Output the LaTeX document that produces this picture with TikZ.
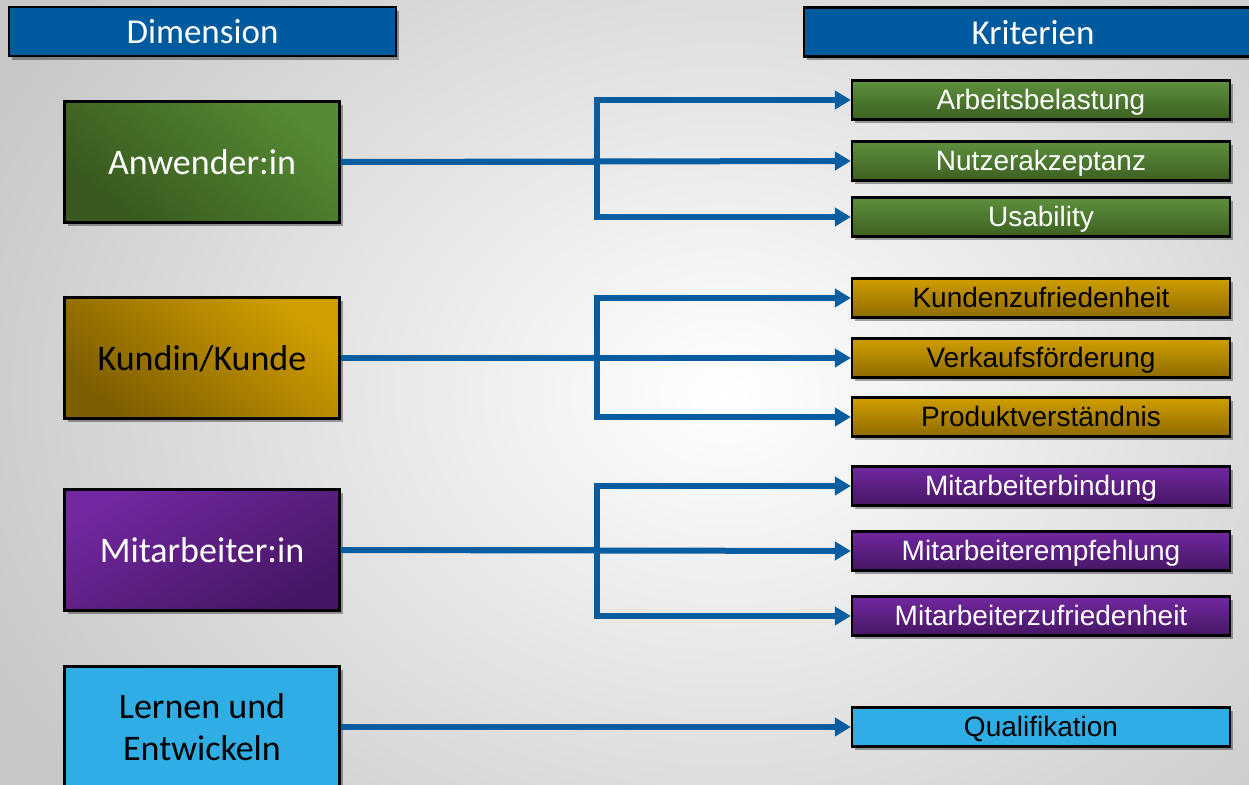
\documentclass[tikz,border=0pt]{standalone}
\usepackage{fontspec}
\setmainfont{Liberation Sans}
\newfontfamily\calfont{Carlito}
\usetikzlibrary{shadows,arrows.meta,calc}
\definecolor{hdrblue}{RGB}{0,90,158}
\definecolor{lnblue}{RGB}{8,92,160}
\definecolor{grnL}{RGB}{86,138,52}
\definecolor{grnD}{RGB}{56,88,30}
\definecolor{gldL}{RGB}{208,158,0}
\definecolor{gldD}{RGB}{126,94,0}
\definecolor{purL}{RGB}{114,40,160}
\definecolor{purD}{RGB}{70,22,100}
\definecolor{ltblue}{RGB}{47,174,230}
\tikzset{
  shad/.style={drop shadow={shadow xshift=1.5pt, shadow yshift=-2pt, opacity=0.35, fill=black}},
  hdr/.style={draw=black, line width=1.2pt, fill=hdrblue, text=white, shad, minimum height=24.5pt, inner sep=0pt, text height=12.5pt, text depth=0pt, font=\calfont\fontsize{17.5}{20}\selectfont},
  dimbox/.style={draw=black, line width=1.2pt, shad, minimum width=137.5pt, minimum height=60.5pt, inner sep=0pt, align=center, font=\calfont\fontsize{18}{21}\selectfont},
  oneline/.style={text height=13pt, text depth=0pt},
  critbox/.style={draw=black, line width=1.1pt, shad, minimum width=189pt, minimum height=19.5pt, inner sep=0pt, text height=10pt, text depth=0pt, font=\fontsize{14}{16}\selectfont},
  green/.style={shading=axis, top color=grnL, bottom color=grnD, shading angle=-40, text=white},
  gold/.style={shading=axis, top color=gldL, bottom color=gldD, shading angle=-40, text=black},
  purple/.style={shading=axis, top color=purL, bottom color=purD, shading angle=30, text=white},
  sky/.style={fill=ltblue, text=black},
  crgreen/.style={shading=axis, top color=grnL!95!white, bottom color=grnD!85!grnL, shading angle=0, text=white},
  crgold/.style={shading=axis, top color=gldL, bottom color=gldD!80!gldL, shading angle=0, text=black},
  crpurple/.style={shading=axis, top color=purL, bottom color=purD, shading angle=0, text=white},
  conn/.style={draw=lnblue, line width=3pt},
  arr/.style={conn, -{Triangle[length=8pt,width=9pt]}},
}
\begin{document}
\begin{tikzpicture}[x=0.5pt, y=-0.5pt]
\useasboundingbox (0,0) rectangle (1249,785);
\begin{scope}
\clip (0,0) rectangle (1249,785);
\fill[inner color=white, outer color=black!22] (-100,-250) rectangle (1550,1035);

\node[hdr, minimum width=193.5pt] (hdim) at (202.5,31.5) {Dimension};
\node[hdr, minimum width=229pt] (hkrit) at (1033,32) {Kriterien};

\node[dimbox, oneline, green] (anw) at (202,162) {Anwender:in};
\node[dimbox, oneline, gold] (kun) at (202,358) {Kundin/Kunde};
\node[dimbox, oneline, purple] (mit) at (202,550) {Mitarbeiter:in};
\node[dimbox, sky] (ler) at (202,727) {Lernen und\\Entwickeln};

\node[critbox, crgreen] (c1) at (1041,100) {Arbeitsbelastung};
\node[critbox, crgreen] (c2) at (1041,161) {Nutzerakzeptanz};
\node[critbox, crgreen] (c3) at (1041,217) {Usability};
\node[critbox, crgold] (c4) at (1041,298) {Kundenzufriedenheit};
\node[critbox, crgold] (c5) at (1041,358) {Verkaufsförderung};
\node[critbox, crgold] (c6) at (1041,417) {Produktverständnis};
\node[critbox, crpurple] (c7) at (1041,486) {Mitarbeiterbindung};
\node[critbox, crpurple] (c8) at (1041,551) {Mitarbeiterempfehlung};
\node[critbox, crpurple] (c9) at (1041,616) {Mitarbeiterzufriedenheit};
\node[critbox, sky] (c10) at (1041,727) {Qualifikation};

\coordinate (tx) at (597,0);

% Anwender:in
\draw[conn] (anw.east) -- (anw.east -| tx);
\draw[arr] (anw.east -| tx) |- (c1.west);
\draw[arr] (anw.east) -- (c2.west);
\draw[arr] (anw.east -| tx) |- (c3.west);
% Kundin/Kunde
\draw[conn] (kun.east) -- (kun.east -| tx);
\draw[arr] (kun.east -| tx) |- (c4.west);
\draw[arr] (kun.east) -- (c5.west);
\draw[arr] (kun.east -| tx) |- (c6.west);
% Mitarbeiter:in
\draw[conn] (mit.east) -- (mit.east -| tx);
\draw[arr] (mit.east -| tx) |- (c7.west);
\draw[arr] (mit.east) -- (c8.west);
\draw[arr] (mit.east -| tx) |- (c9.west);
% Lernen und Entwickeln
\draw[arr] (ler.east) -- (c10.west);
\end{scope}
\end{tikzpicture}
\end{document}
